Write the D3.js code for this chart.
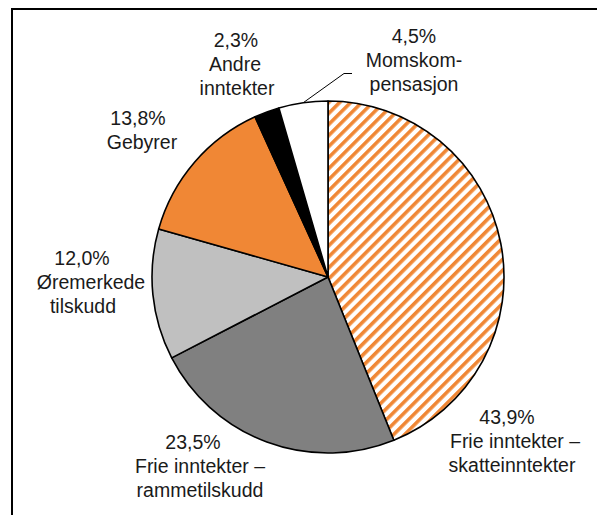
<!DOCTYPE html>
<html>
<head>
<meta charset="utf-8">
<script src="https://cdn.jsdelivr.net/npm/d3@7/dist/d3.min.js"></script>
<style>
  html, body { margin: 0; padding: 0; background: #fff; }
  svg { display: block; }
  text { font-family: "Liberation Sans", Arial, sans-serif; font-size: 19.5px; fill: #1a1a1a; }
</style>
</head>
<body>
<svg id="chart" width="597" height="515"></svg>
<script>
// ---- data ----
const categories = [
  "Frie inntekter – skatteinntekter",
  "Frie inntekter – rammetilskudd",
  "Øremerkede tilskudd",
  "Gebyrer",
  "Andre inntekter",
  "Momskompensasjon"
];
const values = [43.9, 23.5, 12.0, 13.8, 2.3, 4.5];
const valueLabels = ["43,9%", "23,5%", "12,0%", "13,8%", "2,3%", "4,5%"];
const labelLines = [
  ["Frie inntekter –", "skatteinntekter"],
  ["Frie inntekter –", "rammetilskudd"],
  ["Øremerkede", "tilskudd"],
  ["Gebyrer"],
  ["Andre", "inntekter"],
  ["Momskom-", "pensasjon"]
];

// ---- styles / layout ----
const fills = ["url(#hatch)", "#808080", "#c0c0c0", "#f08735", "#000000", "#ffffff"];
const cx = 328, cy = 277, R = 176;
// label layout: center x per line, first baseline y
const labelLayout = [
  { xs: [507, 515, 512], y: 424 },
  { xs: [193, 200, 200], y: 449 },
  { xs: [82, 91, 83], y: 265 },
  { xs: [138, 142], y: 125 },
  { xs: [236, 235, 237], y: 47 },
  { xs: [414, 414, 414], y: 43 }
];
const lineH = 23.8;

const svg = d3.select("#chart");

// hatch pattern
const defs = svg.append("defs");
const pat = defs.append("pattern")
  .attr("id", "hatch")
  .attr("patternUnits", "userSpaceOnUse")
  .attr("width", 7.8).attr("height", 7.8)
  .attr("patternTransform", "rotate(45)");
pat.append("rect").attr("width", 7.8).attr("height", 7.8).attr("fill", "#fff");
pat.append("rect").attr("x", 0).attr("width", 3.6).attr("height", 7.8).attr("fill", "#f08735");

// frame
svg.append("rect")
  .attr("x", 12).attr("y", 9).attr("width", 640).attr("height", 560)
  .attr("fill", "none").attr("stroke", "#000").attr("stroke-width", 2);

const pie = d3.pie().sort(null).value(d => d).startAngle(0).endAngle(2 * Math.PI);
const arcs = pie(values);
const arc = d3.arc().innerRadius(0).outerRadius(R);

const g = svg.append("g").attr("transform", `translate(${cx},${cy})`);
g.selectAll("path.slice")
  .data(arcs)
  .join("path")
  .attr("class", "slice")
  .attr("d", arc)
  .attr("fill", (d, i) => fills[i])
  .attr("stroke", "#000")
  .attr("stroke-width", 1.6)
  .attr("stroke-linejoin", "round");

// leader line for Momskompensasjon (white slice)
const momsArc = arcs[5];
const midA = (momsArc.startAngle + momsArc.endAngle) / 2;
const p0 = [cx + R * Math.sin(midA), cy - R * Math.cos(midA)];
svg.append("polyline")
  .attr("points", [p0, [cx + 16, 73.5], [cx + 24, 73.5]].map(p => p.join(",")).join(" "))
  .attr("fill", "none").attr("stroke", "#000").attr("stroke-width", 1);

// labels
arcs.forEach((a, i) => {
  const lines = [valueLabels[i]].concat(labelLines[i]);
  const lay = labelLayout[i];
  const t = svg.append("text").attr("text-anchor", "middle");
  lines.forEach((ln, j) => {
    t.append("tspan")
      .attr("x", lay.xs[j])
      .attr("y", lay.y + j * lineH)
      .text(ln);
  });
});
</script>
</body>
</html>
